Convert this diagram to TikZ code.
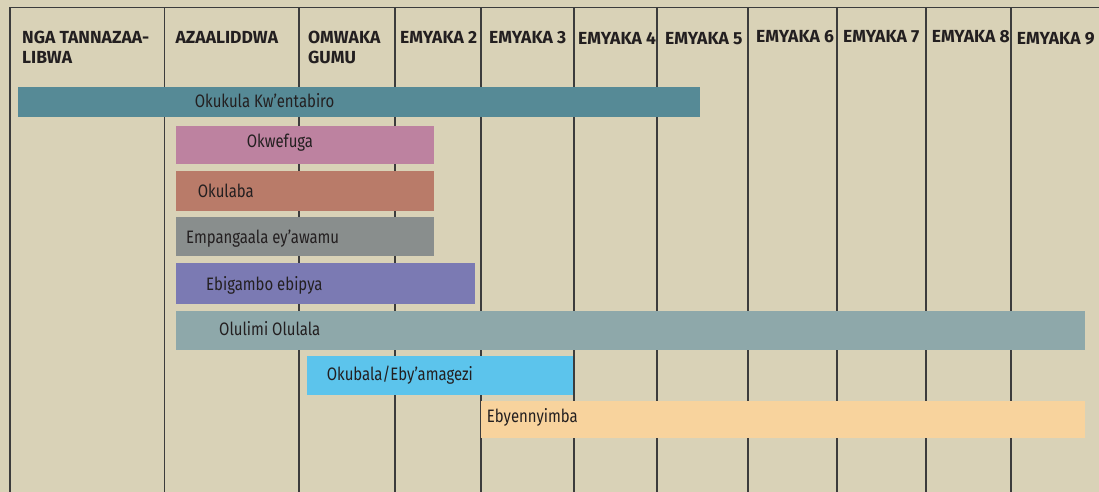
\documentclass[tikz,border=0pt]{standalone}
\usepackage{fontspec}
\setmainfont{Fira Sans}[FakeStretch=0.83]
\newfontfamily\headfont{Fira Sans}
\definecolor{paper}{HTML}{D9D2B7}
\definecolor{rule}{HTML}{3C3C3C}
\definecolor{ink}{HTML}{231F20}
\definecolor{tealbar}{HTML}{568A96}
\definecolor{pinkbar}{HTML}{BD82A0}
\definecolor{brickbar}{HTML}{B97B69}
\definecolor{greybar}{HTML}{898E8D}
\definecolor{violetbar}{HTML}{7B7AB3}
\definecolor{slatebar}{HTML}{8EA8AA}
\definecolor{skybar}{HTML}{5CC4EC}
\definecolor{peachbar}{HTML}{F8D39D}

\begin{document}
\begin{tikzpicture}[x=1pt,y=-1pt,
    grid/.style={line width=1.5pt,draw=rule},
    head/.style={anchor=base west,inner sep=0pt,align=left,text=ink,
                 font=\headfont\bfseries\fontsize{17.5}{20}\selectfont},
    lbl/.style={anchor=base west,inner sep=0pt,text=ink,
                font=\fontsize{18}{20}\selectfont}]
\useasboundingbox (0,0) rectangle (1099,492);
\fill[paper] (0,0) rectangle (1099,492);
\draw[grid] (9.8,7.5)--(1099,7.5) (9.8,7.5)--(9.8,492) (164.5,7.5)--(164.5,492) (299,7.5)--(299,492)
  (395,7.5)--(395,492) (481,7.5)--(481,492) (574,7.5)--(574,492) (657,7.5)--(657,492)
  (748,7.5)--(748,492) (837,7.5)--(837,492) (926,7.5)--(926,492) (1011,7.5)--(1011,492);

\node[head] (before) at (22,63.3) {NGA TANNAZAA-\\LIBWA};
\node[head] (born) at (175.4,43.3) {AZAALIDDWA};
\node[head] (year1) at (308,63.3) {OMWAKA\\GUMU};
\node[head] (year2) at (400,43.3) {EMYAKA 2};
\node[head] (year3) at (489,43.3) {EMYAKA 3};
\node[head] (year4) at (578,45) {EMYAKA 4};
\node[head] (year5) at (665,45) {EMYAKA 5};
\node[head] (year6) at (756,43) {EMYAKA 6};
\node[head] (year7) at (843,43) {EMYAKA 7};
\node[head] (year8) at (931.6,43) {EMYAKA 8};
\node[head] (year9) at (1016.7,45) {EMYAKA 9};

\fill[tealbar] (18,86.7) rectangle (700,116.7);
\node[lbl] (okukula) at (194.7,107.3) {Okukula Kw’entabiro};
\fill[pinkbar] (176,126) rectangle (433.7,163.7);
\node[lbl] (okwefuga) at (246.7,147.3) {Okwefuga};
\fill[brickbar] (176,171.3) rectangle (433.7,210.7);
\node[lbl] (okulaba) at (197.7,197.7) {Okulaba};
\fill[greybar] (176,216.7) rectangle (433.7,256);
\node[lbl] (empangaala) at (186,243.3) {Empangaala ey’awamu};
\fill[violetbar] (176,263.3) rectangle (475,304.3);
\node[lbl] (ebigambo) at (206,290.7) {Ebigambo ebipya};
\fill[slatebar] (176,310.7) rectangle (1084.7,350);
\node[lbl] (olulimi) at (219,335) {Olulimi Olulala};
\fill[skybar] (306.7,356) rectangle (573.3,395);
\node[lbl] (okubala) at (326.7,380.7) {Okubala/Eby’amagezi};
\fill[peachbar] (480.7,400.7) rectangle (1084.7,438.3);
\node[lbl] (ebyennyimba) at (486.7,422.7) {Ebyennyimba};
\end{tikzpicture}
\end{document}
